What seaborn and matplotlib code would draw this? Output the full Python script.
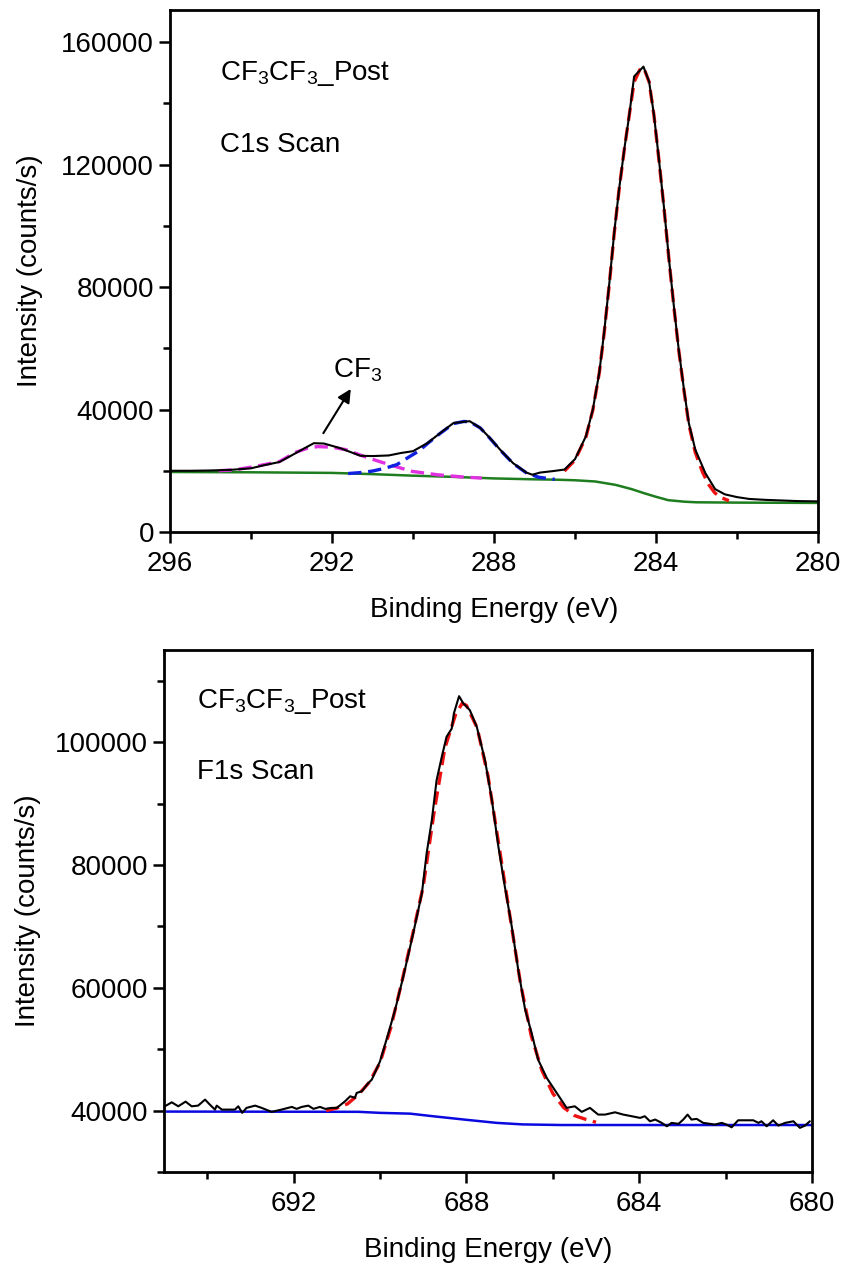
import matplotlib
matplotlib.use("Agg")
import matplotlib.pyplot as plt
from matplotlib.ticker import MultipleLocator
import seaborn as sns
import pandas as pd

# ---------------- C1s panel data ----------------
c1s_energy = [296.0, 295.5, 295.0, 294.5, 294.0, 293.7, 293.3, 293.0, 292.7, 292.45,
              292.2, 291.8, 291.3, 291.0, 290.6, 290.3, 290.0, 289.65, 289.33, 289.0,
              288.6, 288.34, 288.1, 287.85, 287.53, 287.2, 287.05, 286.87, 286.54, 286.26,
              286.0, 285.73, 285.56, 285.4, 285.28, 285.15, 285.03, 284.91, 284.78, 284.66,
              284.54, 284.31, 284.17, 284.05, 283.93, 283.8, 283.68, 283.56, 283.44, 283.31,
              283.19, 283.03, 282.78, 282.54, 282.3, 282.0, 281.7, 281.3, 280.9, 280.5, 280.0]
c1s_counts = [20000, 20000, 20100, 20300, 20800, 21750, 22850, 25000, 27200, 29000,
              28900, 27400, 24900, 24800, 25000, 25800, 26400, 29000, 32300, 35600,
              36200, 34000, 30700, 26900, 22500, 19400, 18700, 19400, 19900, 20400,
              23800, 31300, 40000, 52100, 65300, 81600, 98000, 112100, 125300, 136200,
              148800, 152000, 147100, 136200, 122000, 105600, 89200, 73900, 59700, 46600,
              35600, 26900, 19200, 14000, 12300, 11400, 10800, 10500, 10300, 10100, 10000]

c1s_main_energy = [286.26, 286.0, 285.73, 285.56, 285.4, 285.28, 285.15, 285.03, 284.91, 284.78,
                   284.66, 284.54, 284.4, 284.3, 284.17, 284.05, 283.93, 283.8, 283.68, 283.56,
                   283.44, 283.31, 283.19, 283.03, 282.85, 282.7, 282.55, 282.4, 282.2]
c1s_main_counts = [19900, 23500, 31000, 39800, 52000, 65000, 81300, 97800, 112000, 125200,
                   136200, 147000, 151000, 151500, 147000, 136000, 121800, 105500, 89000, 73700,
                   59500, 46300, 35200, 26000, 19500, 15500, 12800, 11300, 10200]

c1s_cf3_energy = [294.8, 294.4, 293.9, 293.3, 292.9, 292.6, 292.35, 292.0, 291.66, 291.17,
                  290.8, 290.51, 290.02, 289.4, 288.8, 288.3]
c1s_cf3_counts = [20000, 20300, 21400, 23000, 26000, 27400, 27900, 27700, 26900, 24500,
                  22900, 21700, 19800, 18700, 18000, 17600]

c1s_cox_energy = [291.6, 291.3, 291.0, 290.7, 290.4, 290.1, 289.85, 289.65, 289.33, 289.0,
                  288.75, 288.6, 288.34, 288.1, 287.85, 287.53, 287.2, 286.9, 286.5]
c1s_cox_counts = [19100, 19400, 19900, 20800, 22000, 24500, 26500, 28800, 32200, 35400,
                  36100, 36000, 34000, 30600, 26800, 22400, 19300, 17900, 17200]

c1s_bg_energy = [296.0, 294.0, 292.0, 291.0, 290.0, 289.0, 288.0, 287.0, 286.5, 286.0,
                 285.5, 285.0, 284.6, 284.3, 284.0, 283.7, 283.3, 283.0, 282.0, 280.0]
c1s_bg_counts = [19600, 19500, 19300, 18900, 18400, 18000, 17500, 17200, 17100, 16900,
                 16500, 15400, 14000, 12700, 11500, 10400, 9900, 9700, 9600, 9500]

# ---------------- F1s panel data ----------------
f1s_energy = [694.98, 694.82, 694.67, 694.5, 694.36, 694.21, 694.05, 693.94, 693.82, 693.78,
              693.66, 693.36, 693.28, 693.19, 693.09, 692.89, 692.74, 692.51, 692.28, 692.04,
              691.93, 691.81, 691.66, 691.54, 691.39, 691.27, 691.12, 691.0, 690.81, 690.69,
              690.58, 690.54, 690.42, 690.27, 690.19, 690.0, 689.85, 689.65, 689.46, 689.23,
              689.03, 688.92, 688.8, 688.69, 688.57, 688.46, 688.34, 688.29, 688.17, 688.07,
              687.92, 687.76, 687.57, 687.41, 687.26, 687.11, 686.95, 686.8, 686.64, 686.49,
              686.34, 686.14, 685.91, 685.68, 685.49, 685.33, 685.14, 684.95, 684.79, 684.56,
              684.37, 684.17, 683.98, 683.87, 683.75, 683.63, 683.48, 683.36, 683.25, 683.09,
              682.98, 682.88, 682.79, 682.67, 682.52, 682.36, 682.25, 682.09, 681.98, 681.86,
              681.71, 681.51, 681.36, 681.24, 681.17, 681.05, 680.9, 680.78, 680.62, 680.43,
              680.28, 680.16, 680.05]
f1s_counts = [40700, 41350, 40700, 41460, 40700, 40810, 41790, 40980, 40160, 40810,
              40160, 40160, 40700, 39630, 40440, 40810, 40440, 39790, 40160, 40600,
              40280, 40600, 40810, 40280, 40600, 40280, 40440, 40440, 41510, 42330,
              42070, 42880, 43140, 44500, 45040, 48020, 51540, 56420, 61840, 68900,
              75400, 81900, 87300, 93800, 97600, 100860, 102200, 104670, 107480, 106300,
              105200, 102500, 97070, 90570, 83000, 76470, 69970, 62930, 56420, 52630,
              48290, 45320, 42880, 40440, 40700, 39790, 40440, 39350, 39350, 39720,
              39350, 39080, 38810, 39080, 38260, 38540, 38000, 37450, 38000, 37840,
              38540, 39350, 38540, 38650, 38000, 37840, 37720, 38000, 37720, 37280,
              38420, 38420, 38420, 38000, 38260, 37450, 38420, 37560, 38000, 38260,
              37190, 37560, 38260]

f1s_fit_energy = [691.25, 691.0, 690.75, 690.5, 690.25, 690.0, 689.75, 689.5, 689.25, 689.0,
                  688.75, 688.5, 688.25, 688.1, 688.0, 687.75, 687.5, 687.25, 687.0, 686.75,
                  686.5, 686.25, 686.0, 685.75, 685.5, 685.25, 685.0]
f1s_fit_counts = [40000, 40400, 41100, 42600, 44600, 47800, 53500, 60800, 68500, 76500,
                  88500, 99000, 104500, 106300, 106000, 102300, 94500, 83300, 72000, 60800,
                  52200, 46500, 42800, 40500, 39200, 38600, 38100]

f1s_bg_energy = [695.0, 690.5, 690.0, 689.3, 688.8, 688.0, 687.3, 686.7, 685.8, 680.0]
f1s_bg_counts = [39840, 39800, 39630, 39500, 39100, 38500, 38000, 37750, 37650, 37650]

# ---------------- styling ----------------
sns.set_style("white")
plt.rcParams["font.family"] = ["Liberation Sans", "DejaVu Sans"]
plt.rcParams["mathtext.fontset"] = "custom"
plt.rcParams["mathtext.rm"] = "Liberation Sans"
plt.rcParams["mathtext.it"] = "Liberation Sans:italic"
plt.rcParams["text.color"] = "black"
plt.rcParams["axes.labelcolor"] = "black"
FS = 20

fig = plt.figure(figsize=(8.47, 12.70), dpi=100)
ax1 = fig.add_axes([170 / 847, 1 - 532 / 1270, 648 / 847, 522 / 1270])
ax2 = fig.add_axes([164 / 847, 1 - 1172 / 1270, 648 / 847, 522 / 1270])


def line(ax, e, c, color, dashed=False, lw=1.6, z=2):
    df = pd.DataFrame({"E": e, "I": c})
    sns.lineplot(data=df, x="E", y="I", ax=ax, sort=False, estimator=None,
                 color=color, lw=lw, zorder=z, dashes=False)
    if dashed:
        ax.lines[-1].set_dashes((4, 2))


# top panel
line(ax1, c1s_bg_energy, c1s_bg_counts, "#1e7d1e", lw=1.8, z=2)
line(ax1, c1s_cf3_energy, c1s_cf3_counts, "#e030e0", dashed=True, lw=2.4, z=3)
line(ax1, c1s_cox_energy, c1s_cox_counts, "#1020e0", dashed=True, lw=2.4, z=3)
line(ax1, c1s_main_energy, c1s_main_counts, "#ee1111", dashed=True, lw=2.4, z=3)
line(ax1, c1s_energy, c1s_counts, "black", lw=1.5, z=4)

ax1.set_xlim(296, 280)
ax1.set_ylim(0, 170500)
ax1.xaxis.set_major_locator(MultipleLocator(4))
ax1.xaxis.set_minor_locator(MultipleLocator(2))
ax1.yaxis.set_major_locator(MultipleLocator(40000))
ax1.yaxis.set_minor_locator(MultipleLocator(20000))
ax1.text(0.077, 0.866, "CF$_\\mathregular{3}$CF$_\\mathregular{3}$_Post", transform=ax1.transAxes,
         fontsize=FS, color="black")
ax1.text(0.077, 0.728, "C1s Scan", transform=ax1.transAxes, fontsize=FS, color="black")
ax1.annotate("", xy=(291.5, 47500), xytext=(292.25, 31500),
             arrowprops=dict(arrowstyle="-|>", color="black", lw=1.5, mutation_scale=20))
ax1.text(291.98, 50500, "CF$_\\mathregular{3}$", fontsize=FS, color="black")

# bottom panel
line(ax2, f1s_bg_energy, f1s_bg_counts, "#0a0ae0", lw=1.8, z=2)
line(ax2, f1s_fit_energy, f1s_fit_counts, "#ee1111", dashed=True, lw=2.4, z=3)
line(ax2, f1s_energy, f1s_counts, "black", lw=1.5, z=4)

ax2.set_xlim(695, 680)
ax2.set_ylim(30000, 115000)
ax2.set_xticks([692, 688, 684, 680])
ax2.set_xticks([694, 690, 686, 682], minor=True)
ax2.yaxis.set_major_locator(MultipleLocator(20000))
ax2.yaxis.set_minor_locator(MultipleLocator(10000))
ax2.text(0.051, 0.889, "CF$_\\mathregular{3}$CF$_\\mathregular{3}$_Post", transform=ax2.transAxes,
         fontsize=FS, color="black")
ax2.text(0.051, 0.753, "F1s Scan", transform=ax2.transAxes, fontsize=FS, color="black")

for ax, ypad in ((ax1, 13), (ax2, 10)):
    ax.set_xlabel("Binding Energy (eV)", fontsize=FS, labelpad=14, color="black")
    ax.set_ylabel("Intensity (counts/s)", fontsize=FS, labelpad=ypad, color="black")
    for s in ax.spines.values():
        s.set_visible(True)
        s.set_linewidth(2.0)
        s.set_color("black")
    ax.tick_params(which="both", direction="out", width=1.8, colors="black",
                   labelsize=FS, top=False, right=False, left=True, bottom=True)
    ax.tick_params(which="major", length=8)
    ax.tick_params(which="minor", length=5)
    ax.tick_params(axis="x", which="major", pad=6)
    ax.grid(False)
    leg = ax.get_legend()
    if leg is not None:
        leg.remove()

fig.savefig("out.png", dpi=100)
